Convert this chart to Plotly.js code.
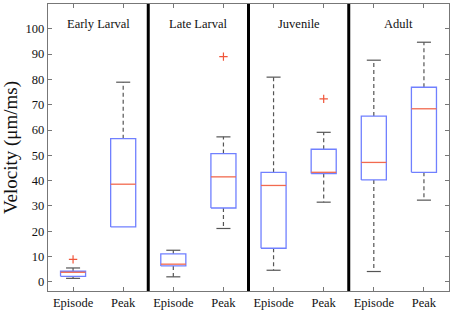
<!DOCTYPE html>
<html>
<head>
<meta charset="utf-8">
<script src="https://cdn.plot.ly/plotly-3.0.1.min.js"></script>
<style>html,body{margin:0;padding:0;background:#fff;}#chart{width:454px;height:313px;}</style>
</head>
<body>
<div id="chart"></div>
<script>
// ---- data ----
const stages = ["Early Larval", "Late Larval", "Juvenile", "Adult"];
const tickLabels = ["Episode", "Peak", "Episode", "Peak", "Episode", "Peak", "Episode", "Peak"];
const lowerWhisker = [1.4, 21.7, 2.0, 21.1, 4.6, 31.5, 4.1, 32.3];
const q1 =           [2.2, 21.7, 6.3, 29.2, 13.3, 42.8, 40.3, 43.3];
const median =       [3.8, 38.6, 7.0, 41.5, 38.1, 43.3, 47.2, 68.4];
const q3 =           [4.2, 56.6, 11.1, 50.7, 43.3, 52.4, 65.5, 76.9];
const upperWhisker = [5.5, 78.9, 12.5, 57.3, 80.9, 59.1, 87.6, 94.7];
const outlierPos =   [1, 4, 6];
const outlierVal =   [8.9, 89.0, 72.3];

// ---- build traces ----
const pos = tickLabels.map((_, i) => i + 1);
const hw = 0.25;   // box half width
const cw = 0.14;   // cap half width
const bx = [], by = [], mx = [], my = [], wx = [], wy = [], cx = [], cy = [];
pos.forEach((p, i) => {
  bx.push(p - hw, p + hw, p + hw, p - hw, p - hw, null);
  by.push(q1[i], q1[i], q3[i], q3[i], q1[i], null);
  mx.push(p - hw, p + hw, null);
  my.push(median[i], median[i], null);
  if (upperWhisker[i] > q3[i]) { wx.push(p, p, null); wy.push(q3[i], upperWhisker[i], null); }
  if (lowerWhisker[i] < q1[i]) { wx.push(p, p, null); wy.push(q1[i], lowerWhisker[i], null); }
  cx.push(p - cw, p + cw, null); cy.push(upperWhisker[i], upperWhisker[i], null);
  if (lowerWhisker[i] < q1[i]) { cx.push(p - cw, p + cw, null); cy.push(lowerWhisker[i], lowerWhisker[i], null); }
});

const traces = [
  {x: wx, y: wy, mode: "lines", line: {color: "#555555", width: 1.2, dash: "4px,3px"}, hoverinfo: "skip"},
  {x: cx, y: cy, mode: "lines", line: {color: "#555555", width: 1.2}, hoverinfo: "skip"},
  {x: bx, y: by, mode: "lines", line: {color: "#7080ff", width: 1.3}, hoverinfo: "skip"},
  {x: mx, y: my, mode: "lines", line: {color: "#f26a4f", width: 1.3}, hoverinfo: "skip"},
  {x: outlierPos, y: outlierVal, mode: "markers",
   marker: {symbol: "cross-thin-open", size: 6, color: "#f0563a", line: {color: "#f0563a", width: 1.2}}, hoverinfo: "skip"}
];

const seps = [2.5, 4.5, 6.5];
const shapes = seps.map(s => ({type: "line", xref: "x", yref: "paper", x0: s, x1: s, y0: 0, y1: 1,
  line: {color: "#000", width: 3}}));
const serif = "Liberation Serif";
const annotations = stages.map((s, i) => ({x: 2 * i + 1.5, y: 102, xref: "x", yref: "y", text: s,
  showarrow: false, font: {family: serif, size: 12.5, color: "#111"}}));

const layout = {
  width: 454, height: 313,
  margin: {l: 48, r: 5, t: 4, b: 22},
  paper_bgcolor: "#fff", plot_bgcolor: "#fff",
  showlegend: false,
  font: {family: serif, size: 12.5, color: "#111"},
  xaxis: {
    range: [0.5, 8.5], tickvals: pos, ticktext: tickLabels,
    ticks: "inside", ticklen: 4, tickcolor: "#777", tickwidth: 1,
    showline: true, linecolor: "#777", linewidth: 1.3, mirror: "ticks",
    showgrid: false, zeroline: false,
    tickfont: {family: serif, size: 12.5, color: "#111"}
  },
  yaxis: {
    range: [-3.6, 109.8], tickvals: [0,10,20,30,40,50,60,70,80,90,100],
    ticks: "inside", ticklen: 4, tickcolor: "#777", tickwidth: 1,
    showline: true, linecolor: "#777", linewidth: 1.3, mirror: "ticks",
    showgrid: false, zeroline: false,
    tickfont: {family: serif, size: 12.5, color: "#111"},
    title: {text: "Velocity (μm/ms)", font: {family: serif, size: 19, color: "#111"}, standoff: 6}
  },
  shapes: shapes,
  annotations: annotations
};

Plotly.newPlot("chart", traces, layout, {staticPlot: true});
</script>
</body>
</html>
